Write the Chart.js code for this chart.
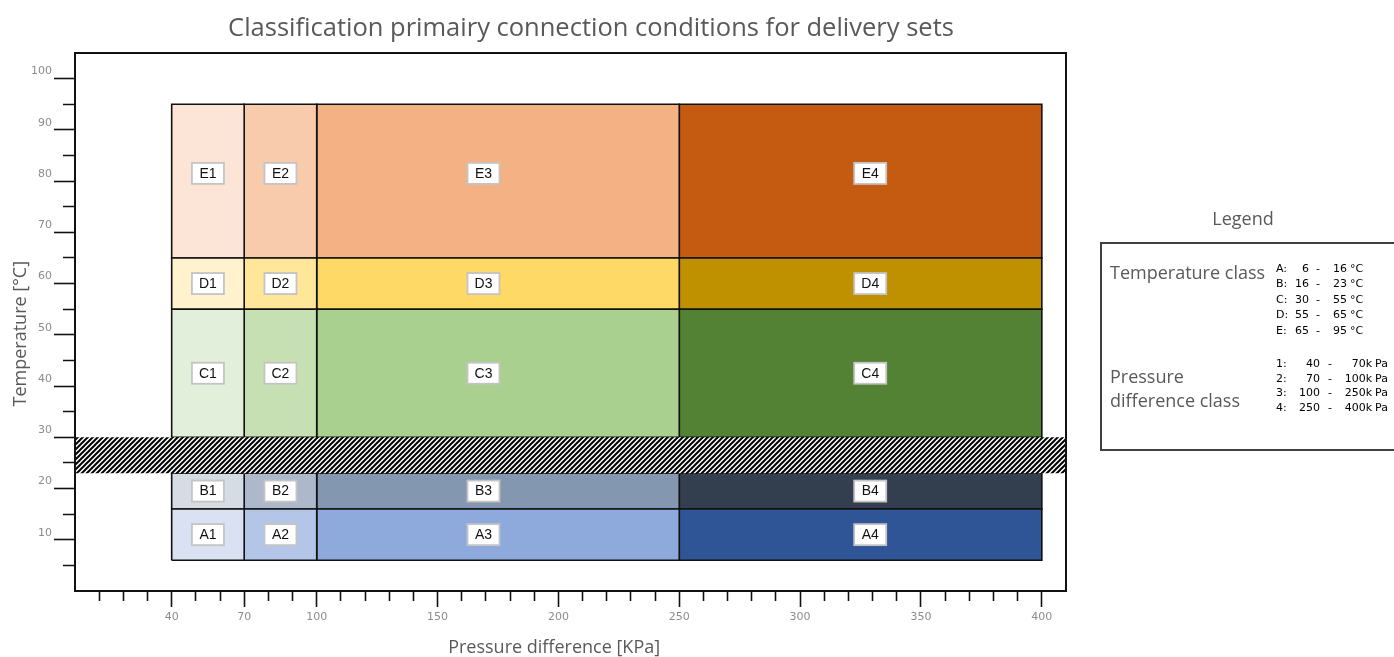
<!DOCTYPE html>
<html>
<head>
<meta charset="utf-8">
<script src="https://cdn.jsdelivr.net/npm/chart.js@4/dist/chart.umd.min.js"></script>
<style>
  body { margin: 0; background: #fff; }
  #wrap { width: 1394px; height: 657px; position: relative; }
</style>
</head>
<body>
<div id="wrap"><canvas id="chart"></canvas></div>
<script>
// temperature classes (rows) and pressure classes (columns)
const tempClasses = ['A', 'B', 'C', 'D', 'E'];
const tempFrom = [6, 16, 30, 55, 65];
const tempTo = [16, 23, 55, 65, 95];
const pressClasses = ['1', '2', '3', '4'];
const pressFrom = [40, 70, 100, 250];
const pressTo = [70, 100, 250, 400];

// colour of every cell, row by row (A..E), column 1..4
const cellColors = [
    ['#D9E1F2', '#B4C6E7', '#8EA9DB', '#2F5597'],
    ['#D6DCE4', '#ADB9CA', '#8497B0', '#333F4F'],
    ['#E2EFDA', '#C6E0B4', '#A9D08E', '#548235'],
    ['#FFF2CC', '#FFE699', '#FFD966', '#BF9000'],
    ['#FCE4D6', '#F8CBAD', '#F4B183', '#C55A11']
];

// where the little name boxes sit
const labelAtX = [55, 85, 169, 329];
const labelAtY = [11, 19.5, 42.5, 60, 81.5];

// hatched gap between 23 and 30 degC
const gapFrom = 23;
const gapTo = 30;

// axes
const xMin = 0, xMax = 410;
const yMin = 0, yMax = 105;
const xTicks = [10, 20, 30, 40, 50, 60, 70, 80, 90, 100, 110, 120, 130, 140, 150, 160, 170, 180, 190, 200,
    210, 220, 230, 240, 250, 260, 270, 280, 290, 300, 310, 320, 330, 340, 350, 360, 370, 380, 390, 400];
const xTickLabels = [40, 70, 100, 150, 200, 250, 300, 350, 400];
const yTicks = [5, 10, 15, 20, 25, 30, 35, 40, 45, 50, 55, 60, 65, 70, 75, 80, 85, 90, 95, 100];
const yTickLabels = [10, 20, 30, 40, 50, 60, 70, 80, 90, 100];

const legendTemp = [['A', 6, 16], ['B', 16, 23], ['C', 30, 55], ['D', 55, 65], ['E', 65, 95]];
const legendPress = [['1', 40, 70], ['2', 70, 100], ['3', 100, 250], ['4', 250, 400]];

function rectPoints(x0, x1, y0, y1) {
    return [{x: x0, y: y0}, {x: x1, y: y0}, {x: x1, y: y1}, {x: x0, y: y1}, {x: x0, y: y0}];
}

// diagonal hatch pattern
function makeHatch() {
    const s = 5;
    const c = document.createElement('canvas');
    c.width = s; c.height = s;
    const g = c.getContext('2d');
    g.fillStyle = '#fff';
    g.fillRect(0, 0, s, s);
    g.strokeStyle = '#000';
    g.lineWidth = 2;
    g.beginPath();
    g.moveTo(0, s); g.lineTo(s, 0);
    g.moveTo(-1, 1); g.lineTo(1, -1);
    g.moveTo(s - 1, s + 1); g.lineTo(s + 1, s - 1);
    g.stroke();
    return g.createPattern(c, 'repeat');
}

const datasets = [];
datasets.push({
    data: rectPoints(xMin, xMax, gapFrom, gapTo),
    backgroundColor: makeHatch(),
    borderWidth: 0,
    fill: 'shape'
});
tempClasses.forEach((t, r) => {
    pressClasses.forEach((p, c) => {
        datasets.push({
            label: t + p,
            data: rectPoints(pressFrom[c], pressTo[c], tempFrom[r], tempTo[r]),
            backgroundColor: cellColors[r][c],
            borderColor: '#111',
            borderWidth: 1.6,
            fill: 'shape'
        });
    });
});

const boxLabels = {
    id: 'boxLabels',
    afterDatasetsDraw(chart) {
        const ctx = chart.ctx;
        const xs = chart.scales.x, ys = chart.scales.y;
        const a = chart.chartArea;
        ctx.save();
        // frame round the plot
        ctx.strokeStyle = '#111';
        ctx.lineWidth = 2;
        ctx.strokeRect(a.left, a.top, a.right - a.left, a.bottom - a.top);

        ctx.font = '14px "Liberation Sans"';
        ctx.textAlign = 'center';
        ctx.textBaseline = 'middle';
        tempClasses.forEach((t, r) => {
            pressClasses.forEach((p, c) => {
                const px = xs.getPixelForValue(labelAtX[c]);
                const py = ys.getPixelForValue(labelAtY[r]);
                ctx.fillStyle = '#fff';
                ctx.fillRect(px - 16, py - 10.5, 32, 21);
                ctx.strokeStyle = '#c4c4c4';
                ctx.lineWidth = 1.8;
                ctx.strokeRect(px - 16, py - 10.5, 32, 21);
                ctx.fillStyle = '#111';
                ctx.fillText(t + p, px, py + 0.5);
            });
        });
        ctx.restore();
    },
    afterDraw(chart) {
        const ctx = chart.ctx;
        ctx.save();
        ctx.fillStyle = '#595959';
        ctx.textAlign = 'center';
        ctx.textBaseline = 'middle';
        ctx.font = '25.5px "Open Sans"';
        ctx.fillText('Classification primairy connection conditions for delivery sets', 591, 29);

        // legend
        ctx.font = '18px "Open Sans"';
        ctx.fillText('Legend', 1243, 220);
        ctx.strokeStyle = '#404040';
        ctx.lineWidth = 2;
        ctx.strokeRect(1101, 243, 330, 207);
        ctx.textAlign = 'left';
        ctx.fillText('Temperature class', 1110, 274);
        ctx.fillText('Pressure', 1110, 378);
        ctx.fillText('difference class', 1110, 402);

        ctx.fillStyle = '#000';
        ctx.font = '11px "DejaVu Sans"';
        legendTemp.forEach((row, i) => {
            const y = 269 + i * 15.5;
            ctx.textAlign = 'left';
            ctx.fillText(row[0] + ':', 1276, y);
            ctx.textAlign = 'right';
            ctx.fillText(String(row[1]), 1309, y);
            ctx.textAlign = 'center';
            ctx.fillText('-', 1318, y);
            ctx.textAlign = 'right';
            ctx.fillText(String(row[2]), 1347, y);
            ctx.textAlign = 'left';
            ctx.fillText('°C', 1350, y);
        });
        legendPress.forEach((row, i) => {
            const y = 364 + i * 14.7;
            ctx.textAlign = 'left';
            ctx.fillText(row[0] + ':', 1276, y);
            ctx.textAlign = 'right';
            ctx.fillText(String(row[1]), 1320, y);
            ctx.textAlign = 'center';
            ctx.fillText('-', 1330, y);
            ctx.textAlign = 'right';
            ctx.fillText(row[2] + 'k', 1372, y);
            ctx.textAlign = 'left';
            ctx.fillText('Pa', 1375, y);
        });
        ctx.restore();
    }
};

new Chart(document.getElementById('chart'), {
    type: 'line',
    data: { datasets: datasets },
    options: {
        responsive: true,
        maintainAspectRatio: false,
        animation: false,
        layout: { padding: { left: 0, right: 328, top: 53, bottom: 0 } },
        elements: {
            point: { radius: 0, hoverRadius: 0 },
            line: { tension: 0 }
        },
        plugins: {
            legend: { display: false },
            title: { display: false },
            tooltip: { enabled: false }
        },
        events: [],
        scales: {
            x: {
                type: 'linear',
                min: xMin,
                max: xMax,
                afterBuildTicks: s => { s.ticks = xTicks.map(v => ({ value: v })); },
                afterFit: s => { s.height = 66; },
                border: { display: false },
                grid: {
                    drawOnChartArea: false,
                    tickLength: 16,
                    tickColor: '#111',
                    tickWidth: 1.6,
                    tickBorderDash: ctx => xTickLabels.includes(ctx.tick && ctx.tick.value) ? [] : [10, 40]
                },
                ticks: {
                    autoSkip: false,
                    maxRotation: 0,
                    padding: 4,
                    color: '#8c8c8c',
                    font: { family: 'DejaVu Sans', size: 11 },
                    callback: v => xTickLabels.includes(v) ? String(v) : ''
                },
                title: {
                    display: true,
                    // trailing spaces nudge the centred title to the left like the original
                    text: 'Pressure difference [KPa]       ',
                    color: '#595959',
                    font: { family: 'Open Sans', size: 18, lineHeight: 1 },
                    padding: { top: 0, bottom: 0 }
                }
            },
            y: {
                type: 'linear',
                min: yMin,
                max: yMax,
                afterBuildTicks: s => { s.ticks = yTicks.map(v => ({ value: v })); },
                afterFit: s => { s.width = 75; },
                border: { display: false },
                grid: {
                    drawOnChartArea: false,
                    tickLength: 21,
                    tickColor: '#111',
                    tickWidth: 1.6,
                    tickBorderDash: ctx => yTickLabels.includes(ctx.tick && ctx.tick.value) ? [] : [0, 9, 12, 40]
                },
                ticks: {
                    autoSkip: false,
                    padding: 2,
                    labelOffset: -7,
                    color: '#8c8c8c',
                    font: { family: 'DejaVu Sans', size: 11 },
                    callback: v => yTickLabels.includes(v) ? String(v) : ''
                },
                title: {
                    display: true,
                    text: 'Temperature [°C]     ',
                    color: '#595959',
                    font: { family: 'Open Sans', size: 18 },
                    padding: { top: 10, bottom: 0 }
                }
            }
        }
    },
    plugins: [boxLabels]
});
</script>
</body>
</html>
